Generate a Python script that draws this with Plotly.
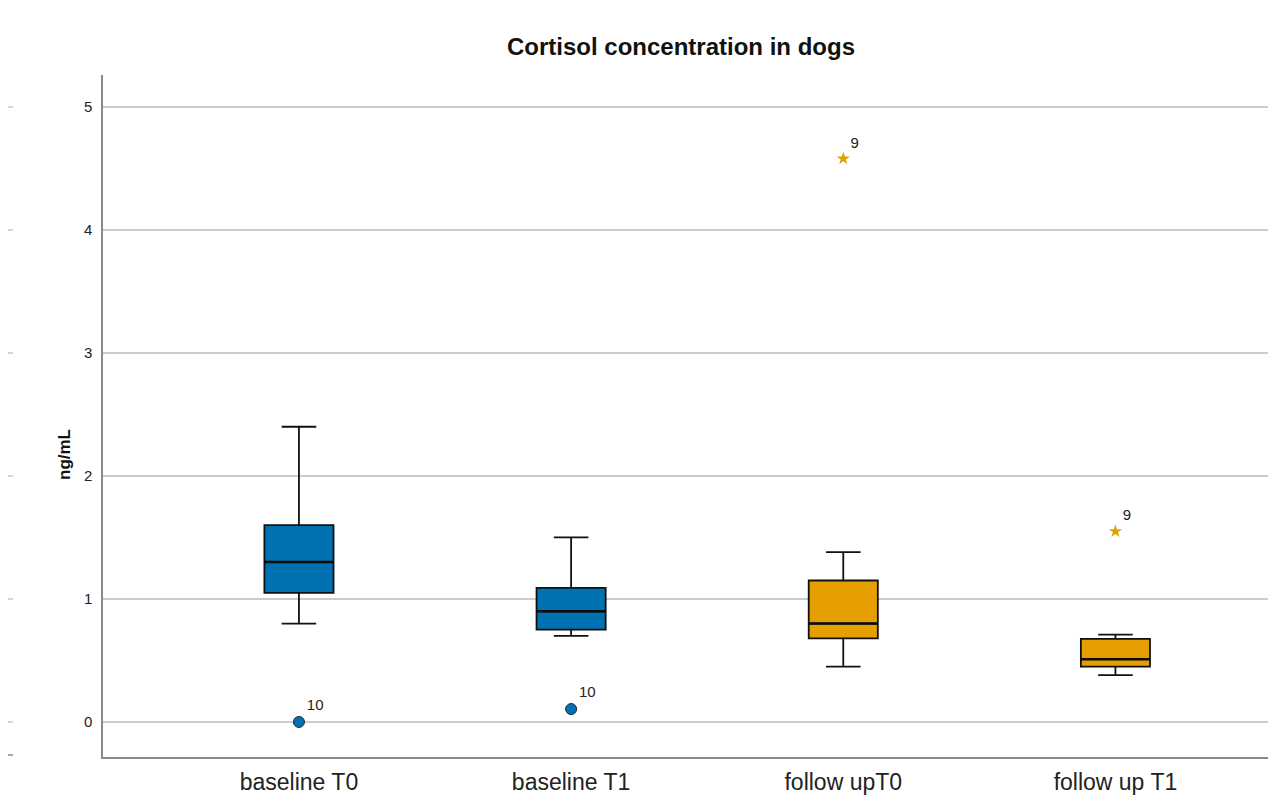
import plotly.graph_objects as go

# ---- data ----
categories = ["baseline T0", "baseline T1", "follow upT0", "follow up T1"]
color_group = ["baseline", "baseline", "follow up", "follow up"]
lower_whisker = [0.80, 0.70, 0.45, 0.38]
q1 = [1.05, 0.75, 0.68, 0.45]
median = [1.30, 0.90, 0.80, 0.51]
q3 = [1.60, 1.09, 1.15, 0.675]
upper_whisker = [2.40, 1.50, 1.38, 0.71]

outlier_cats = ["baseline T0", "baseline T1"]
outlier_vals = [0.0, 0.105]
outlier_ids = ["10", "10"]

extreme_cats = ["follow upT0", "follow up T1"]
extreme_vals = [4.58, 1.55]
extreme_ids = ["9", "9"]

y_ticks = [0, 1, 2, 3, 4, 5]

# ---- styling ----
FONT = "Liberation Sans, Arial, sans-serif"
BLUE = "#0072B2"
ORANGE = "#E69F00"
GROUP_COLORS = {"baseline": BLUE, "follow up": ORANGE}

# page body adds an 8px offset; compensate
OFF = 8
W, H = 1276 - OFF, 795 - OFF
ML, MT = 103 - OFF, 75 - OFF
AXIS_BOTTOM = 757 - OFF
MB = H - AXIS_BOTTOM
PW = W - ML
PH = AXIS_BOTTOM - MT

fig = go.Figure()

for grp, col in GROUP_COLORS.items():
    idx = [i for i, g in enumerate(color_group) if g == grp]
    fig.add_trace(go.Box(
        x=[categories[i] for i in idx],
        q1=[q1[i] for i in idx],
        median=[median[i] for i in idx],
        q3=[q3[i] for i in idx],
        lowerfence=[lower_whisker[i] for i in idx],
        upperfence=[upper_whisker[i] for i in idx],
        boxpoints=False,
        fillcolor=col,
        line=dict(color="#111111", width=1.8),
        width=0.254,
        whiskerwidth=0.5,
        showlegend=False,
        hoverinfo="skip",
    ))

# thicker median bars (degenerate boxes at the median)
fig.add_trace(go.Box(
    x=categories,
    q1=median, median=median, q3=median,
    lowerfence=median, upperfence=median,
    boxpoints=False,
    fillcolor="rgba(0,0,0,0)",
    line=dict(color="#0a0a0a", width=2.6),
    width=0.254, whiskerwidth=0,
    showlegend=False, hoverinfo="skip",
))

fig.add_trace(go.Scatter(
    x=outlier_cats, y=outlier_vals, mode="markers+text",
    text=outlier_ids, textposition="top right",
    textfont=dict(family=FONT, size=15, color="#222"),
    marker=dict(symbol="circle", size=11, color=BLUE,
                line=dict(color="#1a2a3a", width=1)),
    showlegend=False, hoverinfo="skip",
))

fig.add_trace(go.Scatter(
    x=extreme_cats, y=extreme_vals, mode="markers+text",
    text=extreme_ids, textposition="top right",
    textfont=dict(family=FONT, size=15, color="#222"),
    marker=dict(symbol="star", size=10, color=ORANGE,
                line=dict(width=0)),
    showlegend=False, hoverinfo="skip",
))

# stray tick marks of a neighbouring chart at the far left
for v in y_ticks:
    fig.add_shape(type="line", xref="paper", yref="y",
                  x0=-ML / PW, x1=-(ML - 5) / PW, y0=v, y1=v,
                  line=dict(color="#c8c8c8", width=1.5))
fig.add_shape(type="line", xref="paper", yref="paper",
              x0=-ML / PW, x1=-(ML - 5) / PW, y0=2 / PH, y1=2 / PH,
              line=dict(color="#888888", width=1.5))

fig.add_annotation(
    text="ng/mL", textangle=-90, showarrow=False,
    xref="paper", yref="paper", x=(65 - 103) / PW, y=(757 - 455) / PH,
    xanchor="center", yanchor="middle",
    font=dict(family=FONT, size=17, color="#111", weight="bold"),
)

fig.update_layout(
    width=W, height=H,
    margin=dict(l=ML, r=0, t=MT, b=MB, pad=0, autoexpand=False),
    paper_bgcolor="white", plot_bgcolor="white",
    boxmode="overlay",
    title=dict(text="Cortisol concentration in dogs",
               xref="paper", x=(681 - 103) / PW, xanchor="center",
               yref="container", y=1 - (47 - OFF) / H, yanchor="middle",
               font=dict(family=FONT, size=24, color="#111", weight="bold")),
    xaxis=dict(type="category", categoryorder="array", categoryarray=categories,
               range=[-0.72, 3.59], showgrid=False, zeroline=False,
               showline=True, linecolor="#888888", linewidth=1.5,
               ticks="", ticklabelstandoff=4, automargin=False,
               tickfont=dict(family=FONT, size=23, color="#222")),
    yaxis=dict(range=[-0.285, 5.26], tickvals=y_ticks,
               showgrid=True, gridcolor="#cccccc", gridwidth=1.5,
               zeroline=False, showline=True, linecolor="#888888", linewidth=1.5,
               ticks="", ticklabelstandoff=6, automargin=False,
               tickfont=dict(family=FONT, size=15, color="#222")),
)

fig.write_html("out.html")
